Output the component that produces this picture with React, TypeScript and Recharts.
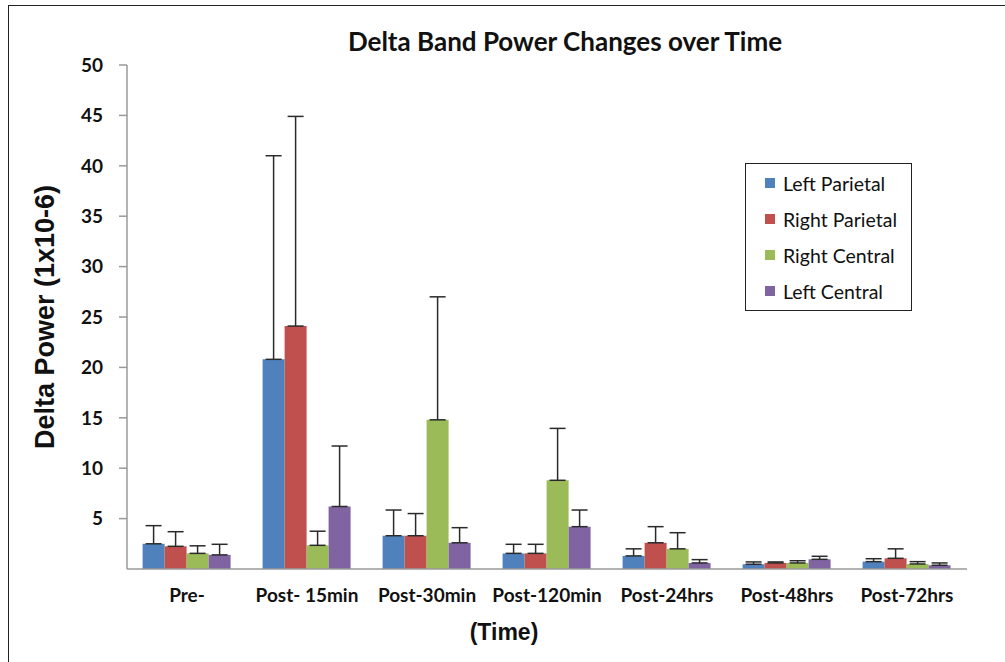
import React from "react";
import { ComposedChart, Bar, ErrorBar, XAxis, YAxis } from "recharts";

// ─── Data ───────────────────────────────────────────────────────────

const timepoints = [
  "Pre-",
  "Post- 15min",
  "Post-30min",
  "Post-120min",
  "Post-24hrs",
  "Post-48hrs",
  "Post-72hrs",
];

const leftParietal = [2.5, 20.8, 3.3, 1.55, 1.3, 0.47, 0.73];
const rightParietal = [2.25, 24.1, 3.3, 1.55, 2.6, 0.6, 1.06];
const rightCentral = [1.55, 2.35, 14.8, 8.8, 2.0, 0.6, 0.5];
const leftCentral = [1.4, 6.2, 2.6, 4.2, 0.6, 0.96, 0.37];

// upper end of each error bar (only the + side is drawn)
const leftParietalTop = [4.3, 41.0, 5.85, 2.45, 2.0, 0.7, 1.02];
const rightParietalTop = [3.7, 44.9, 5.5, 2.45, 4.2, 0.7, 2.0];
const rightCentralTop = [2.3, 3.75, 27.0, 13.95, 3.6, 0.82, 0.73];
const leftCentralTop = [2.45, 12.2, 4.1, 5.85, 0.93, 1.26, 0.6];

const yTicks = [5, 10, 15, 20, 25, 30, 35, 40, 45, 50];
const edgeTicks = [0, 1, 2, 3, 4, 5, 6, 7];

const series = [
  { key: "lp", name: "Left Parietal", color: "#4F81BD" },
  { key: "rp", name: "Right Parietal", color: "#C0504D" },
  { key: "rc", name: "Right Central", color: "#9BBB59" },
  { key: "lc", name: "Left Central", color: "#8064A2" },
];

const FONT = "Lato, 'Open Sans', sans-serif";
const ARIAL = "'Liberation Sans', Arial, sans-serif";

const chartData = timepoints.map((t, i) => ({
  time: t,
  lp: leftParietal[i],
  rp: rightParietal[i],
  rc: rightCentral[i],
  lc: leftCentral[i],
  lpErr: [0, leftParietalTop[i] - leftParietal[i]],
  rpErr: [0, rightParietalTop[i] - rightParietal[i]],
  rcErr: [0, rightCentralTop[i] - rightCentral[i]],
  lcErr: [0, leftCentralTop[i] - leftCentral[i]],
}));

// ─── Legend (boxed, drawn over the plot like the original) ──────────

function BoxLegend() {
  return (
    <div
      style={{
        position: "absolute",
        left: 745,
        top: 163,
        width: 167,
        height: 148,
        boxSizing: "border-box",
        border: "1.5px solid #222",
        padding: "1px 0 0 19px",
        fontFamily: FONT,
        fontSize: 19.5,
        color: "#111",
        background: "#fff",
      }}
    >
      {series.map((s) => (
        <div
          key={s.key}
          style={{ display: "flex", alignItems: "center", height: 36 }}
        >
          <span
            style={{
              width: 10,
              height: 10,
              background: s.color,
              marginRight: 8,
              display: "inline-block",
            }}
          />
          {s.name}
        </div>
      ))}
    </div>
  );
}

// x-axis title sits a little left of the plot centre in the original
function TimeLabel({ viewBox }: { viewBox?: { x: number; y: number; width: number; height: number } }) {
  if (!viewBox) return null;
  return (
    <text
      x={viewBox.x + viewBox.width / 2 - 43}
      y={viewBox.y + viewBox.height + 31}
      textAnchor="middle"
      fontFamily={ARIAL}
      fontWeight={700}
      fontSize={23}
      fill="#111"
    >
      (Time)
    </text>
  );
}

// ─── Chart ──────────────────────────────────────────────────────────

export default function App() {
  const tickStyle = {
    fontFamily: FONT,
    fontWeight: 700,
    fontSize: 19,
    fill: "#111",
  };

  return (
    <div
      style={{
        position: "fixed",
        left: 0,
        top: 0,
        width: 1005,
        height: 662,
        overflow: "hidden",
        background: "#fff",
      }}
    >
      <div
        style={{
          position: "absolute",
          left: 8,
          top: 5,
          width: 1010,
          height: 690,
          boxSizing: "border-box",
          border: "1.5px solid #222",
        }}
      />
      <div
        style={{
          position: "absolute",
          left: 0,
          top: 26,
          width: 1130,
          textAlign: "center",
          fontFamily: FONT,
          fontWeight: 700,
          fontSize: 26,
          lineHeight: "30px",
          color: "#111",
        }}
      >
        Delta Band Power Changes over Time
      </div>
      <div style={{ position: "absolute", left: 0, top: 0 }}>
        <ComposedChart
          width={1005}
          height={662}
          data={chartData}
          margin={{ top: 65, right: 38, left: 47, bottom: 53 }}
          barCategoryGap="13%"
          barGap={0}
        >
          <XAxis
            xAxisId="edges"
            type="number"
            domain={[0, 7]}
            ticks={edgeTicks}
            tick={false}
            axisLine={false}
            tickSize={7}
            tickLine={{ stroke: "#9a9a9a", strokeWidth: 1.5 }}
            height={0}
          />
          <XAxis
            xAxisId="cat"
            dataKey="time"
            tickLine={false}
            tickSize={0}
            tickMargin={20}
            height={40}
            axisLine={{ stroke: "#9a9a9a", strokeWidth: 1.5 }}
            interval={0}
            tick={tickStyle}
            label={<TimeLabel />}
          />
          <YAxis
            domain={[0, 50]}
            ticks={yTicks}
            width={80}
            tickSize={8}
            tickMargin={16}
            axisLine={{ stroke: "#9a9a9a", strokeWidth: 1.5 }}
            tickLine={{ stroke: "#9a9a9a", strokeWidth: 1.5 }}
            tick={tickStyle}
            label={{
              value: "Delta Power (1x10-6)",
              angle: -90,
              position: "insideLeft",
              offset: -3,
              style: {
                textAnchor: "middle",
                fontFamily: ARIAL,
                fontWeight: 700,
                fontSize: 27,
                fill: "#111",
              },
            }}
          />
          {series.map((s) => (
            <Bar
              key={s.key}
              xAxisId="cat"
              dataKey={s.key}
              name={s.name}
              fill={s.color}
              isAnimationActive={false}
            >
              <ErrorBar
                dataKey={`${s.key}Err`}
                width={8}
                stroke="#2a2a2a"
                strokeWidth={1.5}
                direction="y"
                isAnimationActive={false}
              />
            </Bar>
          ))}
        </ComposedChart>
      </div>
      <BoxLegend />
    </div>
  );
}
